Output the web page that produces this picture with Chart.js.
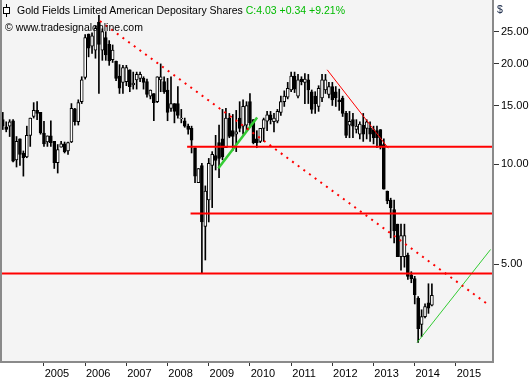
<!DOCTYPE html>
<html><head><meta charset="utf-8">
<script src="https://cdn.jsdelivr.net/npm/chart.js@4.4.0/dist/chart.umd.min.js"></script>
<style>
html,body{margin:0;padding:0;background:#fff;overflow:hidden}
#wrap{position:relative;width:531px;height:379px}
canvas{position:absolute;left:0;top:0}
.t{position:absolute;font-family:"Liberation Sans",Arial,sans-serif;font-size:10.5px;white-space:nowrap;color:#000;line-height:12px}
</style></head><body>
<div id="wrap">
<canvas id="c" width="531" height="379"></canvas>
<div style="position:absolute;left:6px;top:4px;width:1px;height:13px;background:#000"></div>
<div style="position:absolute;left:3px;top:7px;width:5px;height:5px;border:1px solid #000;background:#fff"></div>
<div class="t" style="left:17px;top:4px">Gold Fields Limited American Depositary Shares <span style="color:#00bb00">C:4.03 +0.34 +9.21%</span></div>
<div class="t" style="left:5px;top:21px">© www.tradesignalonline.com</div>
<div class="t" style="left:497px;top:3px;color:#102040">$</div>
</div>
<script>
// Monthly candles, first month = January 2004
const firstYear = 2004;
const opens  = [13.6,12.95,13.0,13.5,10.3,11.9,10.8,10.5,12.2,13.9,14.5,14.3,
                12.4,11.65,12.15,11.7,10.1,11.25,11.5,10.95,11.65,14.65,13.4,15.4,
                18.2,24.6,22.6,22.0,26.7,22.0,24.0,22.9,20.6,20.4,18.4,17.6,
                17.7,19.2,17.3,17.9,18.1,18.1,17.7,16.0,16.3,15.4,17.9,17.7,
                16.7,14.7,15.2,15.2,13.7,13.5,13.0,12.8,11.2,8.8,9.9,6.5,
                7.8,9.9,10.6,11.6,11.9,11.2,13.75,12.6,12.3,13.75,13.0,13.1,
                15.4,13.6,11.9,11.7,12.8,13.45,14.05,13.4,13.45,14.3,15.4,15.9,
                16.7,18.4,16.0,18.0,17.6,17.9,16.5,16.0,14.9,15.8,16.7,16.2,
                17.1,16.5,15.6,15.8,14.2,13.1,13.6,12.7,12.3,13.1,12.8,12.8,
                12.7,12.6,12.7,11.45,8.3,7.8,7.3,6.6,5.27,5.27,5.33,4.65,
                4.53,3.95,3.3,3.48,3.83,3.77];
const highs  = [14.3,13.4,13.6,13.6,12.1,11.9,10.95,13.0,13.75,15.3,15.4,14.3,
                13.45,12.15,13.5,11.7,11.45,11.7,11.65,11.65,15.2,14.7,15.6,18.3,
                24.5,24.6,24.8,26.0,28.0,25.5,25.0,23.5,22.8,20.4,19.9,19.8,
                19.8,19.2,18.9,18.9,18.9,18.3,18.0,16.7,16.3,18.3,20.0,18.3,
                18.1,18.3,15.2,17.1,14.6,13.75,13.2,13.0,11.2,9.7,10.05,8.6,
                10.4,10.9,12.2,13.1,14.6,14.7,14.2,14.1,14.5,15.4,15.6,15.4,
                16.3,13.6,12.6,12.8,13.75,14.4,14.4,14.2,14.6,16.0,16.6,17.6,
                18.9,18.9,18.6,18.3,18.7,18.6,16.7,16.5,17.2,18.6,18.6,17.6,
                17.6,17.1,16.8,16.0,14.4,14.4,14.2,13.6,13.4,14.2,13.6,13.4,
                13.0,13.0,12.7,11.9,8.3,7.9,7.8,6.6,6.6,6.6,5.4,4.75,
                4.6,4.0,3.65,3.8,4.37,4.37];
const lows   = [12.7,12.5,12.1,10.15,9.8,9.9,9.2,10.45,11.3,13.75,13.6,12.3,
                11.3,11.3,11.3,9.7,9.4,11.25,10.8,10.7,11.6,13.1,13.1,15.2,
                18.0,21.0,21.5,20.8,16.3,20.5,20.5,19.8,20.2,17.8,16.3,16.3,
                17.2,16.5,16.8,16.8,17.7,16.8,15.9,15.7,13.5,15.3,16.5,16.3,
                13.5,14.4,13.3,13.75,13.3,12.9,12.3,10.8,8.8,8.8,4.7,5.15,
                6.7,7.4,9.6,9.1,10.3,11.2,12.0,11.0,10.9,12.5,12.3,12.6,
                12.9,11.5,11.2,11.6,11.7,12.6,13.2,12.5,13.3,14.0,14.9,15.7,
                16.5,16.4,15.8,17.3,15.2,15.2,14.2,14.2,14.4,15.4,16.3,15.8,
                15.0,14.9,14.5,13.9,12.0,12.0,12.0,12.4,11.9,11.7,11.9,11.7,
                11.5,11.2,11.1,8.4,7.6,6.0,5.8,5.27,4.8,4.9,4.5,4.4,
                3.8,2.91,3.03,3.45,3.56,3.75];
const closes = [13.0,12.7,13.4,10.2,11.7,10.7,10.45,12.2,13.75,14.5,14.2,12.4,
                11.5,12.15,11.6,10.1,11.05,11.5,10.9,11.6,14.7,13.4,15.3,17.9,
                24.0,22.3,24.3,25.6,22.9,25.0,21.3,20.4,22.0,18.1,16.9,19.5,
                19.5,17.1,17.5,18.6,18.6,17.6,16.2,16.7,15.3,18.3,18.3,16.5,
                14.3,15.2,14.4,14.0,13.75,13.0,12.7,11.8,9.2,9.7,6.7,8.3,
                10.05,10.7,10.25,10.4,10.5,13.75,12.1,12.1,12.5,12.8,14.9,15.0,
                13.3,11.6,11.6,12.8,13.6,14.05,13.6,13.75,14.4,15.4,16.0,16.9,
                18.4,16.8,17.9,17.7,18.0,16.7,14.6,15.2,16.9,17.9,17.9,17.1,
                15.6,15.8,15.4,14.2,12.2,13.45,13.0,13.0,13.2,12.3,13.4,12.3,
                12.0,12.0,11.3,8.4,7.75,7.4,6.3,5.27,6.1,6.1,4.6,4.53,
                4.05,3.2,3.48,3.73,3.69,4.03];
const yearTicks  = [2005,2006,2007,2008,2009,2010,2011,2012,2013,2014,2015];
const priceTicks = [5, 10, 15, 20, 25];
// horizontal support/resistance levels: price and first month
const levelPrices = [11.28, 7.10, 4.69];
const levelStarts = [53.7, 54.7, -0.5];
// trend lines: [startMonth, startPrice, endMonth, endPrice]
const dottedTrend  = [28.3, 26.9, 141.9, 3.75];
const redTrend     = [94.5, 19.2, 112.3, 11.16];
const greenTrend1  = [62.8, 9.71, 74.1, 13.8];
const greenTrend2  = [120.7, 2.91, 142.1, 5.54];

const xMin = -0.52, xMax = 142.8;

const wickData = highs.map((h, i) => ({x: i, y: [lows[i], h]}));
const bodyData = opens.map((o, i) => ({x: i, y: [Math.min(o, closes[i]), Math.max(o, closes[i])]}));
const bodyFill = opens.map((o, i) => closes[i] >= o ? '#ffffff' : '#000000');

function seg(t){ return [{x: t[0], y: t[1]}, {x: t[2], y: t[3]}]; }
function lineDs(data, color, width, dash){
  return {type:'line', data, borderColor:color, borderWidth:width, borderDash:dash||[],
          pointRadius:0, tension:0, fill:false, order:0, borderCapStyle:'butt'};
}
const levelDs = levelPrices.map((p, k) => lineDs([{x: levelStarts[k], y: p}, {x: xMax, y: p}], '#ff0000', 2));

const framePlugin = {
  id: 'frame',
  beforeDraw(chart){
    const {ctx, chartArea: a} = chart;
    ctx.save();
    ctx.fillStyle = '#f4f4f4';
    ctx.fillRect(a.left, a.top, a.right - a.left, a.bottom - a.top);
    ctx.restore();
  },
  afterDraw(chart){
    const {ctx, chartArea: a} = chart;
    ctx.save();
    ctx.strokeStyle = '#8a8a8a';
    ctx.lineWidth = 2;
    ctx.strokeRect(a.left, a.top - 1, a.right - a.left, a.bottom - a.top + 1);
    ctx.restore();
  }
};
function noPad(s){ s.paddingTop = 0; s.paddingBottom = 0; s.paddingLeft = 0; s.paddingRight = 0; }

new Chart(document.getElementById('c'), {
  type: 'bar',
  data: {
    datasets: [
      {data: wickData, backgroundColor:'#000', borderWidth:0, barThickness:1, grouped:false, order:3},
      {data: bodyData, backgroundColor: bodyFill, borderColor:'#000', borderWidth:1, borderSkipped:false,
       barThickness:3, grouped:false, order:2},
      ...levelDs,
      lineDs(seg(dottedTrend), '#ff0000', 2, [2, 5]),
      lineDs(seg(redTrend), '#ff0000', 1),
      lineDs(seg(greenTrend1), '#33cc33', 2.5),
      lineDs(seg(greenTrend2), '#33cc33', 1)
    ]
  },
  options: {
    responsive: false,
    devicePixelRatio: 1,
    animation: false,
    layout: {padding: {left: 1, top: 0, right: 0, bottom: 0}},
    plugins: {legend: {display: false}, tooltip: {enabled: false}},
    scales: {
      x: {
        type: 'linear', min: xMin, max: xMax, offset: false,
        grid: {drawOnChartArea: false, drawTicks: true, tickLength: 4, color: '#333', offset: false},
        border: {display: false},
        afterBuildTicks: s => { s.ticks = yearTicks.map(y => ({value: (y - firstYear) * 12})); },
        afterFit: s => { s.height = 17; noPad(s); },
        ticks: {autoSkip: false, maxRotation: 0, padding: 1, labelOffset: 13, color: '#000',
                font: {family: '"Liberation Sans", Arial, sans-serif', size: 11},
                callback: v => String(firstYear + Math.round(v / 12))}
      },
      y: {
        type: 'logarithmic', position: 'right', min: 2.543, max: 31.12,
        grid: {drawOnChartArea: false, drawTicks: true, tickLength: 6, color: '#333'},
        border: {display: false},
        afterBuildTicks: s => { s.ticks = priceTicks.map(v => ({value: v})); },
        afterFit: s => { s.width = 38; noPad(s); },
        ticks: {padding: 2, color: '#000', font: {family: '"Liberation Sans", Arial, sans-serif', size: 11},
                callback: v => Number(v).toFixed(2)}
      }
    }
  },
  plugins: [framePlugin]
});
</script>
</body></html>
